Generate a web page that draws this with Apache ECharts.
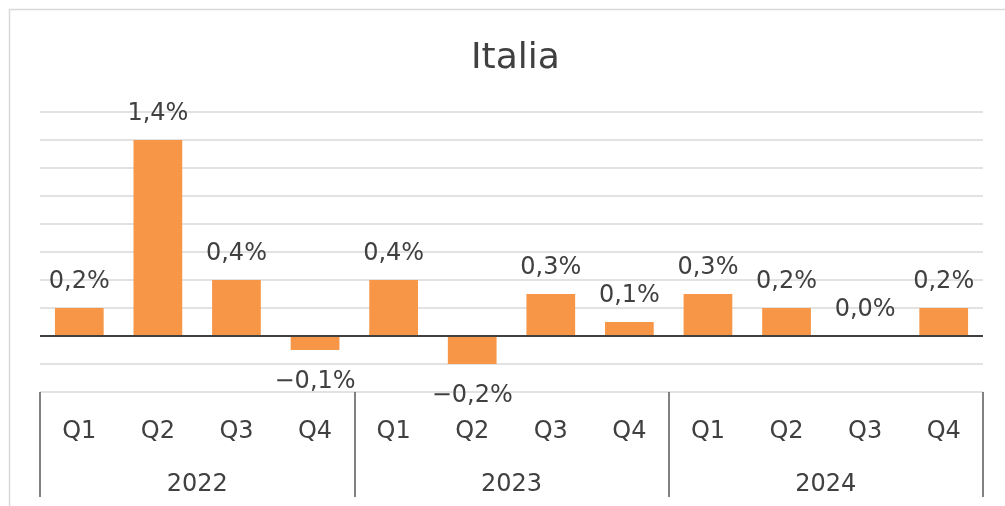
<!DOCTYPE html>
<html>
<head>
    <meta charset="utf-8">
    <script src="https://cdn.jsdelivr.net/npm/echarts@6/dist/echarts.min.js"></script>
    <style>
        html, body { margin: 0; padding: 0; background: #fff; }
        #main { width: 1005px; height: 506px; }
    </style>
</head>
<body>
<div id="main"></div>
<script type="text/javascript">
    // dati trimestrali (variazione %)
    var quarters = ['Q1', 'Q2', 'Q3', 'Q4', 'Q1', 'Q2', 'Q3', 'Q4', 'Q1', 'Q2', 'Q3', 'Q4'];
    var years = ['2022', '2023', '2024'];
    var values = [0.2, 1.4, 0.4, -0.1, 0.4, -0.2, 0.3, 0.1, 0.3, 0.2, 0.0, 0.2];

    var textColor = '#404040';
    var font = 'DejaVu Sans';

    function fmt(v) {
        var s = Math.abs(v).toFixed(1).replace('.', ',') + '%';
        return v < 0 ? '\u2212' + s : s;
    }

    var barData = values.map(function (v) {
        return {
            value: v,
            label: { position: v < 0 ? 'bottom' : 'top', distance: v < 0 ? 20 : 14 }
        };
    });

    var myChart = echarts.init(document.getElementById('main'));
    var option = {
        animation: false,
        backgroundColor: '#fff',
        title: {
            text: 'Italia',
            left: 466,
            top: 36,
            textStyle: { fontFamily: font, fontSize: 36, fontWeight: 'normal', color: textColor }
        },
        graphic: [{
            type: 'rect',
            shape: { x: 9.5, y: 9.5, width: 1200, height: 700 },
            style: { fill: 'none', stroke: '#d9d9d9', lineWidth: 1.5 },
            silent: true
        }],
        grid: { left: 40, right: 22, top: 112, bottom: 114 },
        xAxis: [
            {
                type: 'category',
                data: quarters,
                position: 'bottom',
                axisLine: { show: false },
                axisTick: { show: false },
                axisLabel: { margin: 28, fontFamily: font, fontSize: 24, color: textColor }
            },
            {
                type: 'category',
                data: years,
                position: 'bottom',
                axisLine: { show: false },
                axisTick: { show: true, length: 105, lineStyle: { color: '#595959', width: 1.5 } },
                axisLabel: { margin: 81, fontFamily: font, fontSize: 24, color: textColor }
            }
        ],
        yAxis: {
            type: 'value',
            min: -0.4,
            max: 1.6,
            interval: 0.2,
            axisLabel: { show: false },
            axisLine: { show: false },
            axisTick: { show: false },
            splitLine: { lineStyle: { color: '#d9d9d9', width: 1.5 } }
        },
        series: [{
            type: 'bar',
            xAxisIndex: 0,
            data: barData,
            barWidth: '62%',
            itemStyle: { color: '#f79646' },
            label: {
                show: true,
                fontFamily: font,
                fontSize: 24,
                color: textColor,
                formatter: function (p) { return fmt(p.value); }
            },
            markLine: {
                silent: true,
                symbol: 'none',
                label: { show: false },
                lineStyle: { color: '#404040', width: 2, type: 'solid' },
                data: [{ yAxis: 0 }]
            }
        }]
    };
    myChart.setOption(option);
</script>
</body>
</html>
